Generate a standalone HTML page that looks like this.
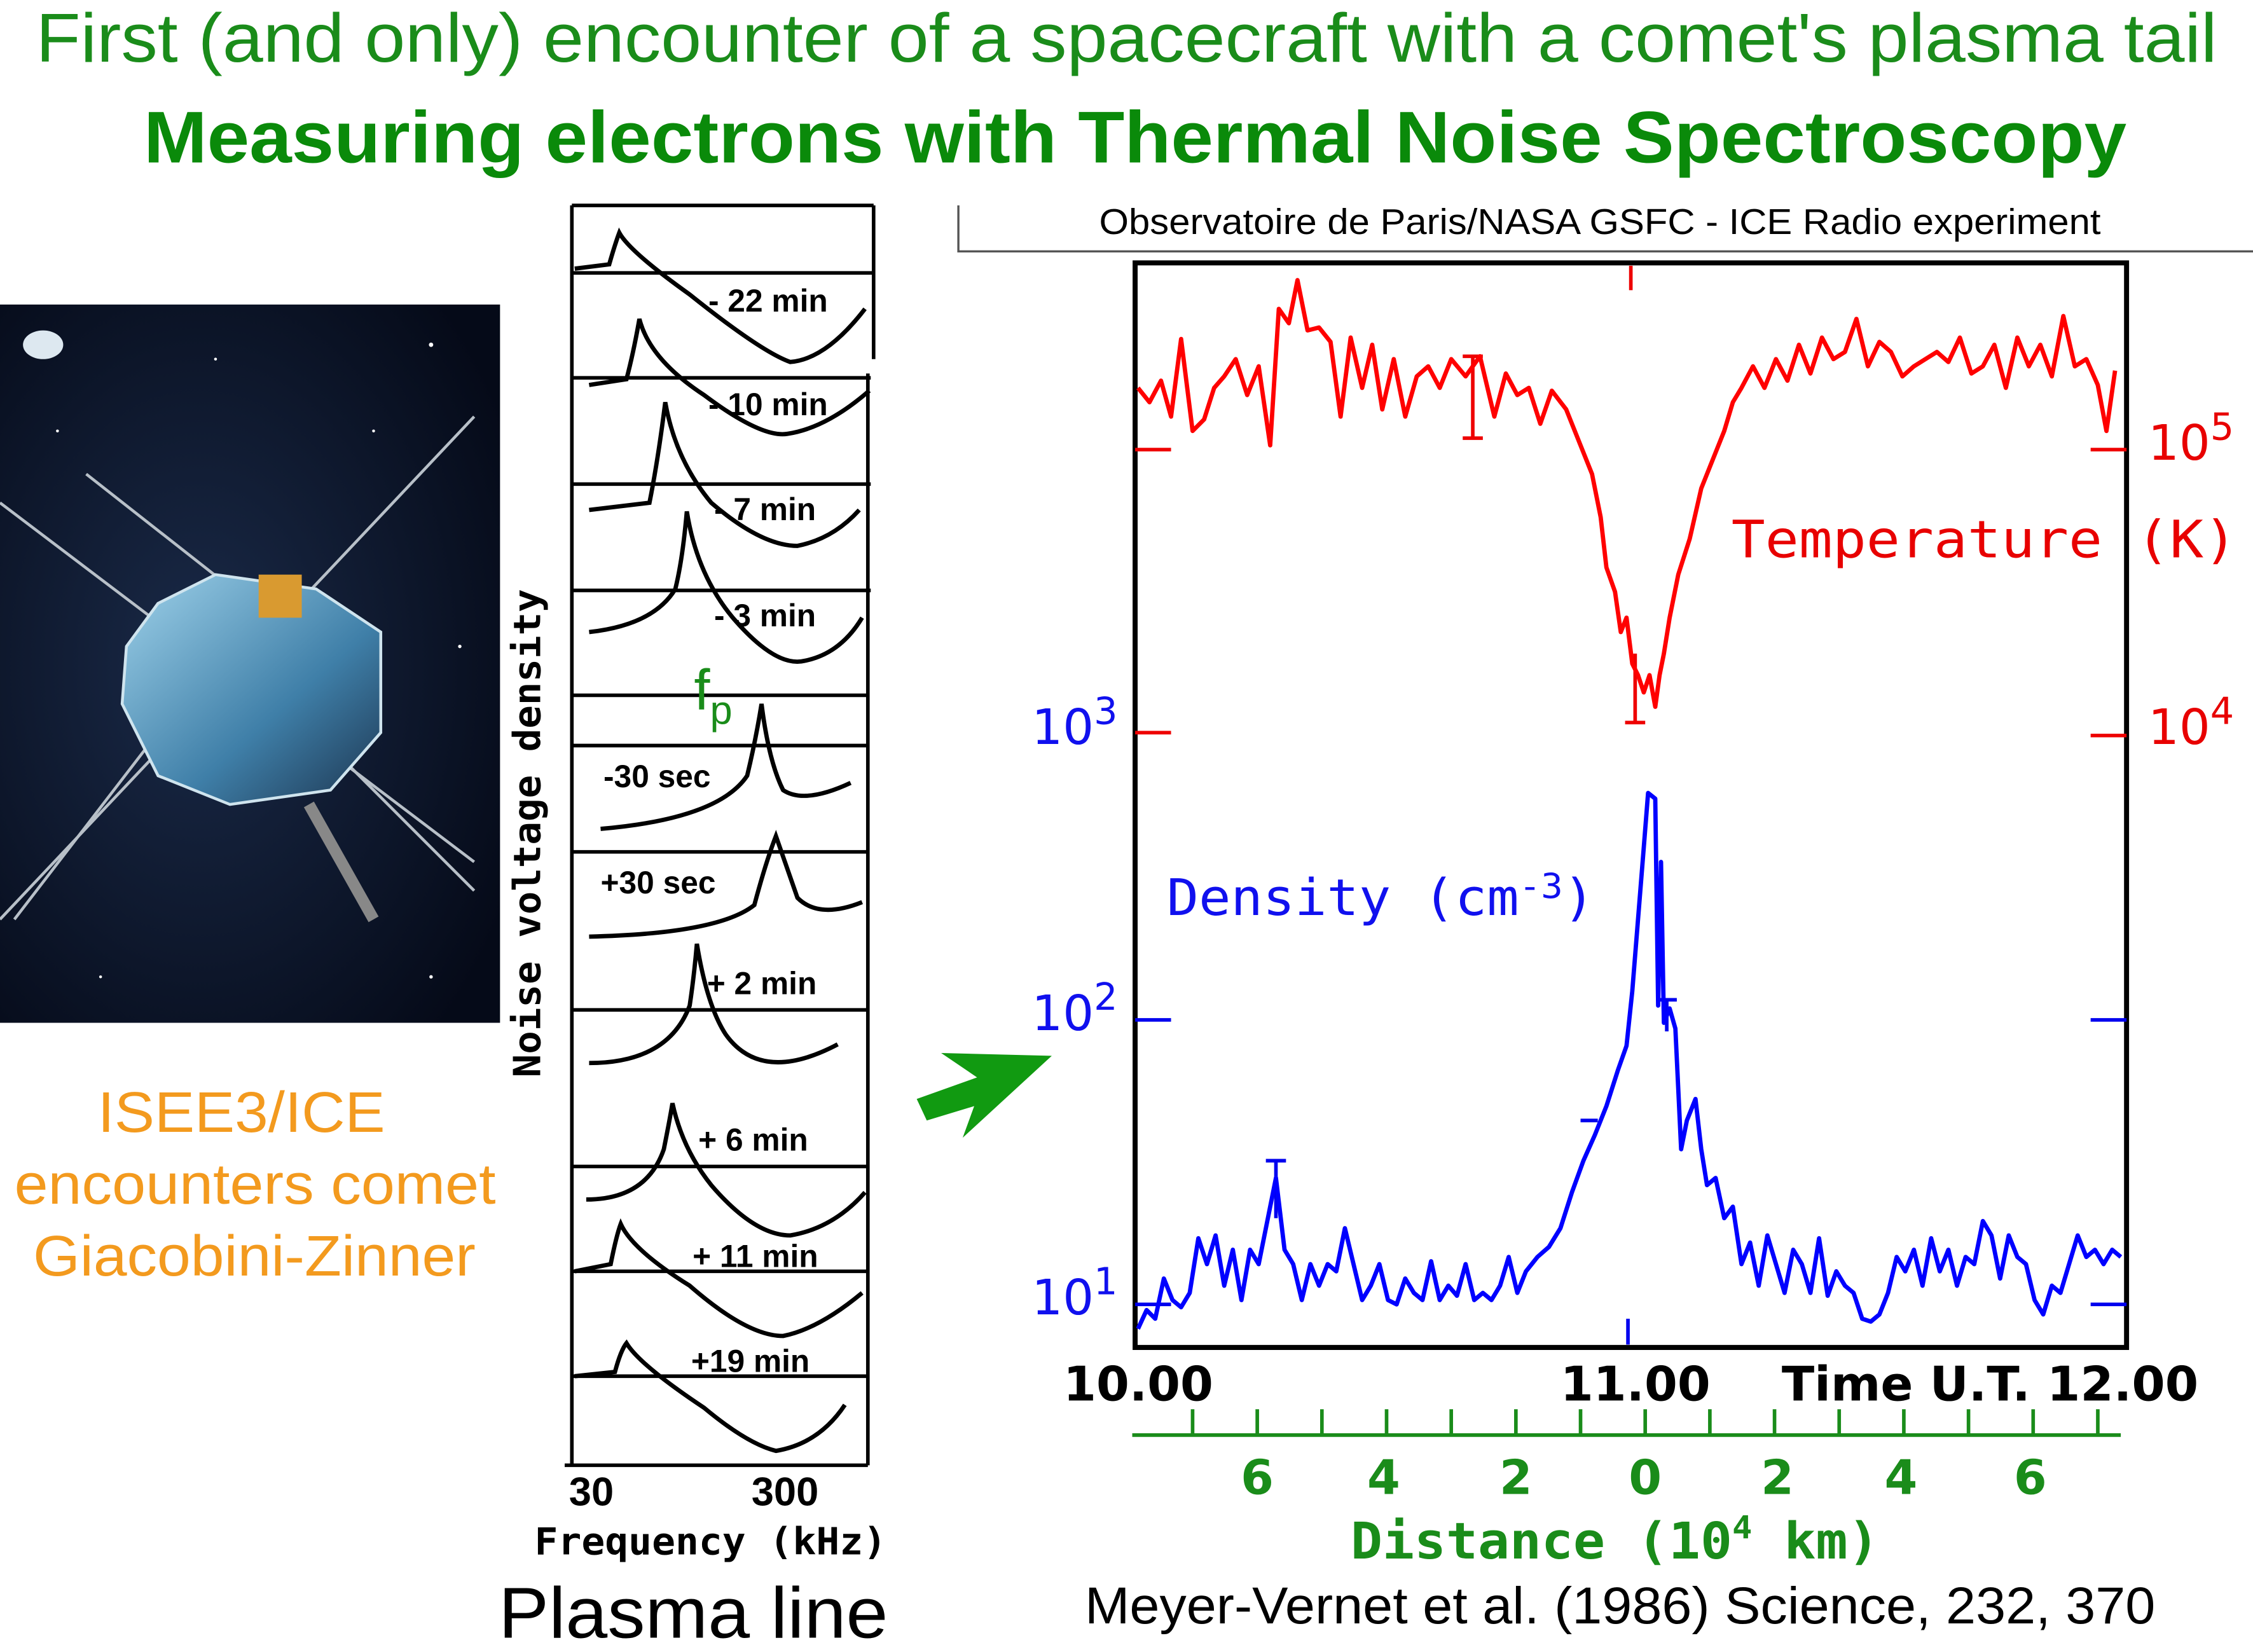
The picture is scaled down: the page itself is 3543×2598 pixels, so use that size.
<!DOCTYPE html>
<html><head><meta charset="utf-8"><style>
html,body{margin:0;padding:0;background:#fff}
svg{display:block}
</style></head><body>
<svg width="3543" height="2598" viewBox="0 0 1568 1150" preserveAspectRatio="none" xmlns="http://www.w3.org/2000/svg" font-family="Liberation Sans, sans-serif">
<rect width="1568" height="1150" fill="#fff"/>
<text x="25" y="43" font-size="48" fill="#1a8c1a" textLength="1518" lengthAdjust="spacingAndGlyphs">First (and only) encounter of a spacecraft with a comet's plasma tail</text>
<text x="100" y="113" font-size="51" font-weight="bold" fill="#0a8a0a" textLength="1380" lengthAdjust="spacingAndGlyphs">Measuring electrons with Thermal Noise Spectroscopy</text>

<!-- photo -->
<defs><radialGradient id="bg" cx="0.4" cy="0.5" r="0.7"><stop offset="0" stop-color="#1a2a48"/><stop offset="1" stop-color="#050a18"/></radialGradient>
<linearGradient id="sc" x1="0" y1="0" x2="1" y2="1"><stop offset="0" stop-color="#9fd2ea"/><stop offset="0.6" stop-color="#3f7fa8"/><stop offset="1" stop-color="#1c3550"/></linearGradient></defs>
<rect x="0" y="212" width="348" height="500" fill="url(#bg)"/>
<ellipse cx="30" cy="240" rx="14" ry="10" fill="#dde8f0"/>
<g stroke="#b8c0c8" stroke-width="2">
<line x1="0" y1="350" x2="330" y2="600"/><line x1="60" y1="330" x2="200" y2="440"/><line x1="330" y1="290" x2="0" y2="640"/><line x1="110" y1="510" x2="10" y2="640"/><line x1="230" y1="520" x2="330" y2="620"/></g>
<polygon points="110,420 150,400 220,410 265,440 265,510 230,550 160,560 110,540 85,490 88,450" fill="url(#sc)" stroke="#cfe4ee" stroke-width="2"/>
<rect x="180" y="400" width="30" height="30" fill="#d99a30"/>
<line x1="215" y1="560" x2="260" y2="640" stroke="#888" stroke-width="8"/>
<g fill="#fff"><circle cx="300" cy="240" r="1.5"/><circle cx="260" cy="300" r="1"/><circle cx="40" cy="300" r="1"/><circle cx="320" cy="450" r="1.2"/><circle cx="70" cy="680" r="1"/><circle cx="300" cy="680" r="1.2"/><circle cx="150" cy="250" r="1"/></g>

<g font-size="40" fill="#f39a1e">
<text x="68" y="788" textLength="200" lengthAdjust="spacingAndGlyphs">ISEE3/ICE</text><text x="10" y="838" textLength="335" lengthAdjust="spacingAndGlyphs">encounters comet</text><text x="23" y="888" textLength="308" lengthAdjust="spacingAndGlyphs">Giacobini-Zinner</text></g>

<!-- plasma line panel -->
<g stroke="#000" stroke-width="2.5" fill="none">
<line x1="398" y1="143" x2="398" y2="1020"/><line x1="398" y1="143" x2="608" y2="143"/>
<line x1="608" y1="143" x2="608" y2="250"/><line x1="604" y1="260" x2="604" y2="1020"/>
<line x1="393" y1="1020" x2="604" y2="1020"/>
<line x1="398" y1="190" x2="608" y2="190"/><line x1="398" y1="263" x2="606" y2="263"/><line x1="398" y1="337" x2="606" y2="337"/><line x1="398" y1="411" x2="606" y2="411"/><line x1="398" y1="484" x2="604" y2="484"/><line x1="398" y1="519" x2="604" y2="519"/><line x1="398" y1="593" x2="604" y2="593"/><line x1="398" y1="703" x2="604" y2="703"/><line x1="398" y1="812" x2="604" y2="812"/><line x1="398" y1="885" x2="604" y2="885"/><line x1="398" y1="958" x2="604" y2="958"/>
</g>
<g stroke="#000" stroke-width="3" fill="none">
<path d="M400,187 L424,184 Q428,170 431,162 Q438,175 480,205 Q530,245 550,252 Q575,250 602,215"/>
<path d="M410,268 L436,264 Q441,245 445,222 Q452,250 490,275 Q530,305 548,302 Q575,298 605,272"/>
<path d="M410,355 L452,350 Q458,320 463,280 Q470,320 495,350 Q530,380 555,380 Q580,375 598,355"/>
<path d="M410,440 Q455,435 470,410 Q475,390 478,356 Q485,400 510,430 Q540,465 560,460 Q585,455 600,430"/>
<path d="M418,577 Q500,570 520,540 Q526,515 530,490 Q535,530 545,550 Q560,560 592,545"/>
<path d="M410,652 Q500,650 525,630 Q533,600 540,582 Q548,605 555,625 Q570,640 600,628"/>
<path d="M410,740 Q465,740 480,700 Q483,680 485,657 Q492,700 505,720 Q530,755 583,727"/>
<path d="M408,835 Q450,835 462,800 Q466,780 468,768 Q475,800 495,825 Q525,860 550,860 Q580,855 602,830"/>
<path d="M400,885 L425,880 Q429,860 432,852 Q440,870 480,895 Q520,930 545,930 Q570,925 600,900"/>
<path d="M400,958 L428,955 Q432,940 436,935 Q445,950 490,980 Q520,1005 540,1010 Q570,1005 588,978"/>
</g>
<g font-size="22" font-weight="bold" fill="#000">
<text x="493" y="217">- 22 min</text><text x="493" y="289">- 10 min</text><text x="497" y="362">-  7 min</text><text x="497" y="436">- 3 min</text>
<text x="420" y="548">-30 sec</text><text x="418" y="622">+30 sec</text><text x="492" y="692">+ 2 min</text><text x="486" y="801">+  6 min</text><text x="482" y="882">+ 11 min</text><text x="481" y="955">+19 min</text></g>
<text x="483" y="494" font-size="40" fill="#1a8c1a">f<tspan font-size="28" dy="10">p</tspan></text>
<text transform="translate(376,580) rotate(-90)" text-anchor="middle" font-family="DejaVu Sans Mono, monospace" font-size="26" font-weight="bold" textLength="340" lengthAdjust="spacingAndGlyphs">Noise voltage density</text>
<text x="396" y="1048" font-size="28" font-weight="bold">30</text><text x="523" y="1048" font-size="28" font-weight="bold">300</text>
<text x="372" y="1082" font-family="DejaVu Sans Mono, monospace" font-size="26" font-weight="bold" textLength="245" lengthAdjust="spacingAndGlyphs">Frequency (kHz)</text>
<text x="347" y="1140" font-size="50" textLength="271" lengthAdjust="spacingAndGlyphs">Plasma line</text>

<!-- arrow -->
<polygon points="638,765 680,750 655,733 732,735 670,792 678,770 645,780" fill="#119a11"/>

<!-- right chart -->
<path d="M667,143 L667,175 L1568,175" stroke="#555" stroke-width="1.5" fill="none"/>
<text x="765" y="163" font-size="25" textLength="697" lengthAdjust="spacingAndGlyphs">Observatoire de Paris/NASA GSFC - ICE Radio experiment</text>
<rect x="790" y="183" width="690" height="755" fill="none" stroke="#000" stroke-width="3.5"/>
<g stroke="#e00" stroke-width="2.5"><line x1="790" y1="313" x2="815" y2="313"/><line x1="790" y1="510" x2="815" y2="510"/><line x1="1455" y1="313" x2="1480" y2="313"/><line x1="1455" y1="512" x2="1480" y2="512"/><line x1="1135" y1="185" x2="1135" y2="202"/><line x1="1025" y1="248" x2="1025" y2="305"/><line x1="1018" y1="248" x2="1032" y2="248"/><line x1="1018" y1="305" x2="1032" y2="305"/><line x1="1138" y1="455" x2="1138" y2="503"/><line x1="1131" y1="503" x2="1145" y2="503"/></g>
<g stroke="#00e" stroke-width="2.5"><line x1="790" y1="710" x2="815" y2="710"/><line x1="790" y1="908" x2="815" y2="908"/><line x1="1455" y1="710" x2="1480" y2="710"/><line x1="1455" y1="908" x2="1480" y2="908"/><line x1="1133" y1="918" x2="1133" y2="936"/><line x1="888" y1="808" x2="888" y2="848"/><line x1="881" y1="808" x2="895" y2="808"/><line x1="1160" y1="696" x2="1160" y2="718"/><line x1="1153" y1="696" x2="1167" y2="696"/><line x1="1100" y1="780" x2="1112" y2="780"/></g>
<path fill="none" stroke="#f00" stroke-width="3" stroke-linejoin="round" d="M792,270 L800,280 808,265 815,290 822,236 830,300 838,292 845,270 852,262 860,250 868,275 876,255 884,310 890,215 897,225 903,195 910,230 918,228 926,238 933,290 940,235 948,270 955,240 962,285 970,250 978,290 986,262 994,255 1002,270 1010,250 1020,262 1030,248 1040,290 1048,260 1056,275 1064,270 1072,295 1080,272 1090,285 1100,310 1108,330 1114,360 1118,395 1124,412 1128,440 1132,430 1136,462 1140,470 1144,482 1148,470 1152,492 1155,470 1158,455 1162,430 1168,400 1176,375 1184,340 1192,320 1200,300 1206,280 1212,270 1220,255 1228,270 1236,250 1244,265 1252,240 1260,260 1268,235 1276,250 1284,245 1292,222 1300,255 1308,238 1316,245 1324,262 1332,255 1340,250 1348,245 1356,252 1364,235 1372,260 1380,255 1388,240 1396,270 1404,235 1412,255 1420,240 1428,262 1436,220 1444,255 1452,250 1460,268 1466,300 1472,258"/>
<path fill="none" stroke="#00f" stroke-width="3" stroke-linejoin="round" d="M792,925 L798,912 804,918 810,890 816,905 822,910 828,900 834,862 840,880 846,860 852,895 858,870 864,905 870,870 876,880 882,850 888,820 894,870 900,880 906,905 912,880 918,895 924,880 930,885 936,855 942,880 948,905 954,895 960,880 966,905 972,908 978,890 984,900 990,905 996,878 1002,905 1008,895 1014,902 1020,880 1026,905 1032,900 1038,905 1044,895 1050,875 1056,900 1062,885 1070,875 1078,868 1086,855 1094,830 1102,808 1110,790 1118,770 1126,745 1132,728 1136,690 1140,640 1144,590 1147,552 1152,556 1154,700 1156,600 1158,712 1162,702 1166,716 1170,800 1174,780 1180,765 1184,800 1188,825 1194,820 1200,848 1206,840 1212,880 1218,865 1224,895 1230,860 1236,880 1242,900 1248,870 1254,880 1260,900 1266,862 1272,902 1278,885 1284,895 1290,900 1296,918 1302,920 1308,915 1314,900 1320,875 1326,885 1332,870 1338,895 1344,862 1350,885 1356,870 1362,895 1368,875 1374,880 1380,850 1386,860 1392,890 1398,860 1404,875 1410,880 1416,905 1422,915 1428,895 1434,900 1440,880 1446,860 1452,875 1458,870 1464,880 1470,870 1476,875"/>
<g font-family="DejaVu Sans, sans-serif" font-size="34" fill="#1010ee">
<text x="718" y="518">10<tspan font-size="26" dy="-14">3</tspan></text>
<text x="718" y="717">10<tspan font-size="26" dy="-14">2</tspan></text>
<text x="718" y="915">10<tspan font-size="26" dy="-14">1</tspan></text>
<text x="812" y="637" font-family="DejaVu Sans Mono, monospace" font-size="35" textLength="298" lengthAdjust="spacingAndGlyphs">Density (cm<tspan font-size="24" dy="-12">-3</tspan><tspan dy="12">)</tspan></text></g>
<g font-family="DejaVu Sans, sans-serif" font-size="34" fill="#e80000">
<text x="1495" y="320">10<tspan font-size="26" dy="-14">5</tspan></text>
<text x="1495" y="518">10<tspan font-size="26" dy="-14">4</tspan></text>
<text x="1205" y="388" font-family="DejaVu Sans Mono, monospace" font-size="36" textLength="352" lengthAdjust="spacingAndGlyphs">Temperature (K)</text></g>
<g font-family="DejaVu Sans, sans-serif" font-size="33" font-weight="bold" fill="#000">
<text x="740" y="975">10.00</text><text x="1086" y="975">11.00</text><text x="1240" y="975" textLength="290" lengthAdjust="spacingAndGlyphs">Time U.T. 12.00</text></g>
<g stroke="#1a8c1a" stroke-width="2.5">
<line x1="788" y1="999" x2="1476" y2="999"/>
<line x1="830" y1="981" x2="830" y2="999"/><line x1="875" y1="981" x2="875" y2="999"/><line x1="920" y1="981" x2="920" y2="999"/><line x1="965" y1="981" x2="965" y2="999"/><line x1="1010" y1="981" x2="1010" y2="999"/><line x1="1055" y1="981" x2="1055" y2="999"/><line x1="1100" y1="981" x2="1100" y2="999"/><line x1="1145" y1="981" x2="1145" y2="999"/><line x1="1190" y1="981" x2="1190" y2="999"/><line x1="1235" y1="981" x2="1235" y2="999"/><line x1="1280" y1="981" x2="1280" y2="999"/><line x1="1325" y1="981" x2="1325" y2="999"/><line x1="1370" y1="981" x2="1370" y2="999"/><line x1="1415" y1="981" x2="1415" y2="999"/><line x1="1460" y1="981" x2="1460" y2="999"/></g>
<g font-family="DejaVu Sans, sans-serif" font-size="33" font-weight="bold" fill="#1a8c1a" text-anchor="middle">
<text x="875" y="1040">6</text><text x="963" y="1040">4</text><text x="1055" y="1040">2</text><text x="1145" y="1040">0</text><text x="1237" y="1040">2</text><text x="1323" y="1040">4</text><text x="1413" y="1040">6</text></g>
<text x="940" y="1085" font-family="DejaVu Sans Mono, monospace" font-size="35" font-weight="bold" fill="#1a8c1a" textLength="368" lengthAdjust="spacingAndGlyphs">Distance (10<tspan font-size="22" dy="-14">4</tspan><tspan dy="14"> km)</tspan></text>
<text x="755" y="1130" font-size="36" textLength="745" lengthAdjust="spacingAndGlyphs">Meyer-Vernet et al. (1986) Science, 232, 370</text>
</svg>
</body></html>
